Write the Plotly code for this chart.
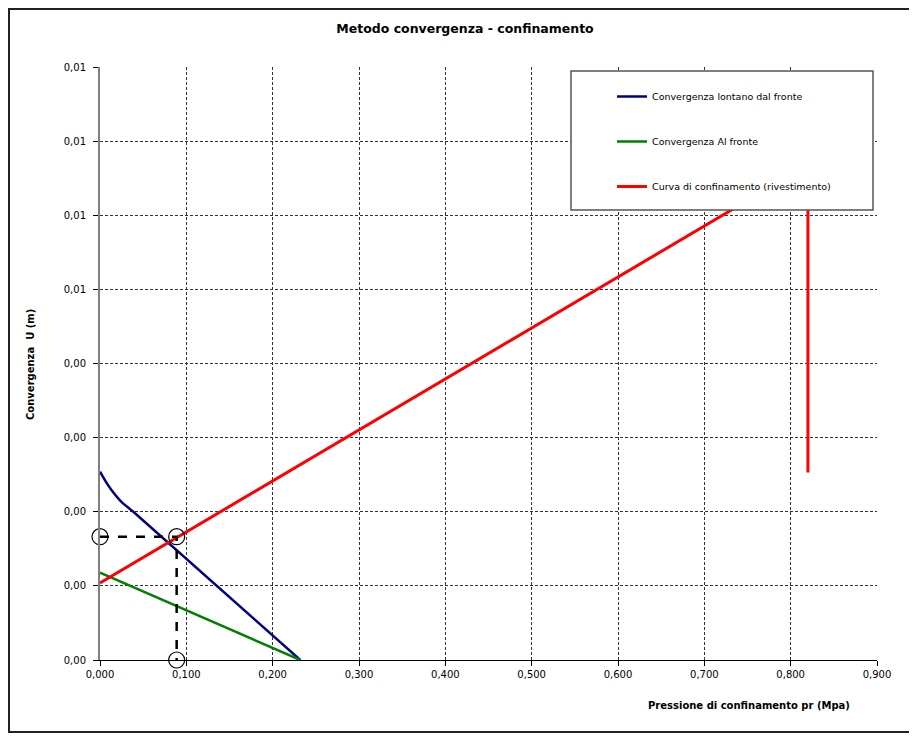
import plotly.graph_objects as go

# ---- data ----
x_far = [0.000, 0.006, 0.0135, 0.0251, 0.0386, 0.232]
y_far = [0.00254, 0.00242, 0.00229, 0.00213, 0.00200, 0.0]

x_front = [0.000, 0.232]
y_front = [0.00118, 0.0]

x_lining = [0.000, 0.820, 0.820]
y_lining = [0.00104, 0.00668, 0.00253]

x_eq = [0.000, 0.0888, 0.0888]
y_eq = [0.001664, 0.001664, 0.0]

x_tick_vals = [0.0, 0.1, 0.2, 0.3, 0.4, 0.5, 0.6, 0.7, 0.8, 0.9]
x_tick_labels = ["0,000", "0,100", "0,200", "0,300", "0,400", "0,500",
                 "0,600", "0,700", "0,800", "0,900"]
y_tick_vals = [0.000, 0.001, 0.002, 0.003, 0.004, 0.005, 0.006, 0.007, 0.008]
y_tick_labels = ["0,00", "0,00", "0,00", "0,00", "0,00", "0,01", "0,01", "0,01", "0,01"]

names = ["Convergenza lontano dal fronte", "Convergenza Al fronte",
         "Curva di confinamento (rivestimento)"]

FONT = "DejaVu Sans, Verdana, sans-serif"

# page offset of the figure inside the browser page (body margin)
OFF = 8
W, H = 909, 728

fig = go.Figure()
fig.add_trace(go.Scatter(x=x_far, y=y_far, mode="lines", name=names[0],
                         line=dict(color="#000080", width=2.5, shape="spline", smoothing=0.5),
                         legendgroup="a"))
fig.add_trace(go.Scatter(x=x_front, y=y_front, mode="lines", name=names[1],
                         line=dict(color="#008000", width=2.5), legendgroup="b"))
fig.add_trace(go.Scatter(x=x_lining, y=y_lining, mode="lines", name=names[2],
                         line=dict(color="#FF0000", width=3), legendgroup="c"))
fig.add_trace(go.Scatter(x=x_eq, y=y_eq, mode="lines+markers", showlegend=False,
                         cliponaxis=False,
                         line=dict(color="black", width=2.5, dash="dash"),
                         marker=dict(symbol="circle-open", size=16, color="black",
                                     line=dict(width=1.2, color="black"))))

# plot area on page: x 100..877 px, y 67..660 px
def px_x(p):
    return (p - 100) / 777.0

def px_y(p):
    return (660 - p) / 593.0

fig.update_layout(
    width=W, height=H,
    margin=dict(l=100 - OFF, r=40, t=67 - OFF, b=76),
    paper_bgcolor="white", plot_bgcolor="white",
    font=dict(family=FONT, size=10, color="black"),
    title=dict(text="<b>Metodo convergenza - confinamento</b>",
               x=(465 - OFF) / W, xanchor="center", xref="container",
               y=1 - (29 - OFF) / H, yanchor="middle", yref="container",
               font=dict(family=FONT, size=12.5, color="black")),
    showlegend=True,
    legend=dict(x=px_x(612), y=px_y(82), xanchor="left", yanchor="top",
                bgcolor="rgba(0,0,0,0)", borderwidth=0,
                font=dict(family=FONT, size=9.5, color="black"),
                traceorder="grouped", tracegroupgap=26),
)

fig.update_xaxes(range=[0, 0.9], tickvals=x_tick_vals, ticktext=x_tick_labels,
                 showgrid=True, gridcolor="#333", gridwidth=1, griddash="3px,2px",
                 zeroline=False, showline=True, linecolor="black", linewidth=1,
                 ticks="outside", ticklen=5, tickcolor="black",
                 tickfont=dict(family=FONT, size=10))
fig.update_yaxes(range=[0, 0.008], tickvals=y_tick_vals, ticktext=y_tick_labels,
                 showgrid=True, gridcolor="#333", gridwidth=1, griddash="3px,2px",
                 zeroline=False, showline=True, linecolor="#808080", linewidth=2,
                 ticks="outside", ticklen=5, tickcolor="black", ticklabelstandoff=5,
                 tickfont=dict(family=FONT, size=10))

# legend frame
fig.add_shape(type="rect", xref="paper", yref="paper",
              x0=px_x(571), x1=px_x(873), y0=px_y(210), y1=px_y(71),
              fillcolor="white", line=dict(color="#555", width=1.5), layer="above")
# outer chart frame
fig.add_shape(type="rect", xref="paper", yref="paper",
              x0=px_x(9), x1=px_x(930), y0=px_y(732), y1=px_y(9),
              fillcolor="rgba(0,0,0,0)", line=dict(color="#222", width=2), layer="above")

fig.add_annotation(text="<b>Convergenza  U (m)</b>", xref="paper", yref="paper",
                   x=px_x(30), y=px_y(365), textangle=-90, showarrow=False,
                   xanchor="center", yanchor="middle",
                   font=dict(family=FONT, size=10, color="black"))
fig.add_annotation(text="<b>Pressione di confinamento pr (Mpa)</b>", xref="paper", yref="paper",
                   x=px_x(749), y=px_y(705), showarrow=False,
                   xanchor="center", yanchor="middle",
                   font=dict(family=FONT, size=10, color="black"))

fig.write_html("out.html")
